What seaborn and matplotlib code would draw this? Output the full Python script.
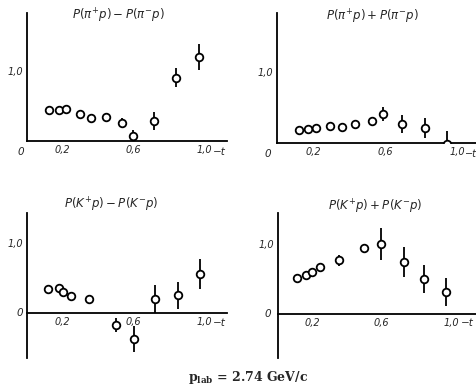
import numpy as np
import pandas as pd
import matplotlib
matplotlib.use("Agg")
import matplotlib.pyplot as plt
import seaborn as sns

# ---- data ----
t_pi_diff = [0.126, 0.18, 0.223, 0.302, 0.364, 0.449, 0.535, 0.601, 0.719, 0.843, 0.971]
v_pi_diff = [0.445, 0.445, 0.455, 0.384, 0.322, 0.346, 0.256, 0.076, 0.284, 0.905, 1.20]
e_pi_diff = [0.03, 0.03, 0.03, 0.05, 0.04, 0.04, 0.07, 0.08, 0.13, 0.14, 0.19]

t_pi_sum = [0.122, 0.172, 0.215, 0.294, 0.359, 0.435, 0.526, 0.589, 0.696, 0.819, 0.941]
v_pi_sum = [0.188, 0.20, 0.216, 0.24, 0.225, 0.27, 0.315, 0.41, 0.27, 0.21, -0.01]
e_pi_sum = [0.03, 0.03, 0.03, 0.04, 0.04, 0.05, 0.05, 0.10, 0.13, 0.14, 0.18]

t_k_diff = [0.118, 0.18, 0.203, 0.247, 0.35, 0.502, 0.606, 0.723, 0.854, 0.977]
v_k_diff = [0.35, 0.365, 0.30, 0.24, 0.207, -0.163, -0.37, 0.207, 0.255, 0.56]
e_k_diff = [0.04, 0.04, 0.04, 0.05, 0.04, 0.10, 0.18, 0.20, 0.19, 0.22]

t_k_sum = [0.107, 0.16, 0.198, 0.244, 0.35, 0.495, 0.598, 0.73, 0.846, 0.97]
v_k_sum = [0.505, 0.548, 0.60, 0.667, 0.762, 0.943, 0.995, 0.738, 0.50, 0.314]
e_k_sum = [0.05, 0.05, 0.05, 0.05, 0.08, 0.05, 0.23, 0.21, 0.20, 0.20]

titles = [r"$P(\pi^{+}p)-P(\pi^{-}p)$", r"$P(\pi^{+}p)+P(\pi^{-}p)$",
          r"$P(K^{+}p)-P(K^{-}p)$", r"$P(K^{+}p)+P(K^{-}p)$"]
xtick_vals = [0.2, 0.4, 0.6, 0.8, 1.0]
xtick_labels = ["0,2", "", "0,6", "", "1,0"]
caption = r"$\mathbf{p_{lab}}$ = 2.74 GeV/c"

sns.set_style("white")
plt.rcParams["font.family"] = ["DejaVu Sans"]

W, H = 477, 386
fig = plt.figure(figsize=(W / 100, H / 100), dpi=100)

def box(left, right, top, bottom):
    return [left / W, 1 - bottom / H, (right - left) / W, (bottom - top) / H]

# (axes box in px, xlim, ylim, title centre px, zero-label px, -t label left px)
panels = [
    (box(27, 227, 13, 141), (0, 1.13), (0, 1.83), (118, 16), (21, 152), (213, 152),
     t_pi_diff, v_pi_diff, e_pi_diff),
    (box(277, 477, 13, 143), (0, 1.11), (0, 1.83), (372, 17), (268, 154), (465, 154),
     t_pi_sum, v_pi_sum, e_pi_sum),
    (box(27, 227, 213, 358), (0, 1.13), (-0.64, 1.43), (111, 205), (20, 313), (213, 323),
     t_k_diff, v_k_diff, e_k_diff),
    (box(278, 477, 213, 358), (0, 1.15), (-0.63, 1.44), (375, 207), (268, 314), (461, 323),
     t_k_sum, v_k_sum, e_k_sum),
]

for i, (pos, xl, yl, tpos, zpos, mpos, t, v, e) in enumerate(panels):
    ax = fig.add_axes(pos)
    df = pd.DataFrame({"t": t, "v": v, "e": e})
    ax.vlines(df["t"], df["v"] - df["e"], df["v"] + df["e"], color="black", lw=1.3, zorder=2)
    sns.scatterplot(data=df, x="t", y="v", ax=ax, marker="o", s=30,
                    facecolor="white", edgecolor="black", linewidth=1.3, zorder=3)
    ax.set_xlim(*xl)
    ax.set_ylim(*yl)
    ax.set_xlabel("")
    ax.set_ylabel("")
    for s in ["top", "right"]:
        ax.spines[s].set_visible(False)
    for s in ["left", "bottom"]:
        ax.spines[s].set_position(("data", 0))
        ax.spines[s].set_linewidth(1.3)
        ax.spines[s].set_color("black")
    ax.set_xticks(xtick_vals)
    ax.set_xticklabels(xtick_labels, fontstyle="italic", fontsize=7)
    ax.set_yticks([0.5, 1.0])
    ax.set_yticklabels(["", "1,0"], fontstyle="italic", fontsize=7)
    ax.tick_params(axis="both", direction="in", length=3, width=1, color="black", pad=3)
    ax.patch.set_alpha(0)
    fig.text(tpos[0] / W, 1 - tpos[1] / H, titles[i], ha="center", va="center", fontsize=8.5)
    fig.text(zpos[0] / W, 1 - zpos[1] / H, "0", ha="center", va="center",
             fontstyle="italic", fontsize=7.5)
    fig.text(mpos[0] / W, 1 - mpos[1] / H, "−t", ha="left", va="center",
             fontstyle="italic", fontsize=7 if i == 1 else 7.5)

fig.text(248 / W, 1 - 378 / H, caption, ha="center", va="center", fontsize=9,
         family="DejaVu Serif", weight="bold", math_fontfamily="dejavuserif")

fig.savefig("out.png", dpi=100)
